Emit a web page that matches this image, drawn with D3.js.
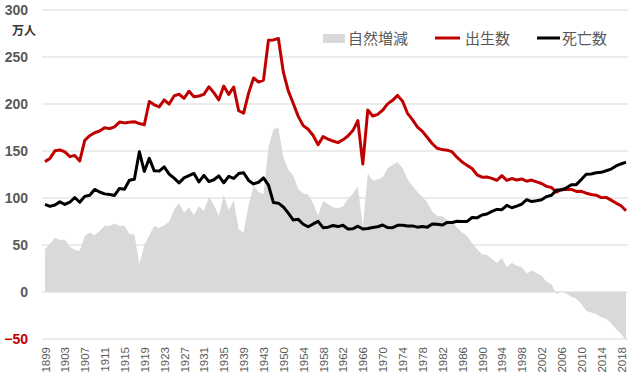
<!DOCTYPE html>
<html><head><meta charset="utf-8">
<script src="https://cdn.jsdelivr.net/npm/d3@7"></script>
<style>html,body{margin:0;padding:0;background:#fff;}svg{display:block;}</style>
</head><body>
<svg id="c" width="640" height="378"></svg>
<script>
const years = [1899,1900,1901,1902,1903,1904,1905,1906,1907,1908,1909,1910,1911,1912,1913,1914,1915,1916,1917,1918,1919,1920,1921,1922,1923,1924,1925,1926,1927,1928,1929,1930,1931,1932,1933,1934,1935,1936,1937,1938,1939,1940,1941,1942,1943,1947,1948,1949,1950,1951,1952,1953,1954,1955,1956,1957,1958,1959,1960,1961,1962,1963,1964,1965,1966,1967,1968,1969,1970,1971,1972,1973,1974,1975,1976,1977,1978,1979,1980,1981,1982,1983,1984,1985,1986,1987,1988,1989,1990,1991,1992,1993,1994,1995,1996,1997,1998,1999,2000,2001,2002,2003,2004,2005,2006,2007,2008,2009,2010,2011,2012,2013,2014,2015,2016,2017,2018,2019];
const births = [138.7,142.1,150.2,151.1,149.0,144.0,145.3,139.4,161.4,166.3,169.4,171.3,174.8,173.8,175.7,180.8,179.9,180.5,181.2,179.2,177.9,202.6,199.1,196.9,204.3,199.9,208.6,210.4,206.1,213.6,207.7,208.5,210.3,218.3,212.1,204.4,219.1,210.2,218.1,192.8,190.2,211.6,227.7,223.4,225.4,267.9,268.2,269.7,233.8,213.8,200.5,186.8,177.0,173.1,166.5,156.7,165.3,162.6,160.6,158.9,161.9,166.0,171.7,182.4,136.1,193.6,187.2,189.0,193.4,200.1,203.9,209.2,203.0,190.1,183.3,175.5,170.9,164.3,157.7,152.9,151.5,150.9,149.0,143.2,138.3,134.7,131.4,124.7,122.2,122.3,120.9,118.8,123.8,118.7,120.7,119.2,120.3,117.8,119.1,117.1,115.4,112.4,111.1,106.3,109.3,109.0,109.1,107.0,107.1,105.1,103.7,103.0,100.4,100.6,97.7,94.6,91.8,86.5];
const deaths = [93.2,91.1,92.6,95.9,93.1,95.5,100.5,95.5,101.7,102.9,109.1,106.4,104.4,103.7,102.7,110.2,109.4,118.8,120.0,149.3,128.2,142.2,128.9,128.7,133.2,125.5,121.1,116.1,121.4,123.7,126.1,117.1,124.1,117.5,119.4,123.5,116.2,123.0,120.8,126.0,126.9,118.7,115.0,116.7,121.4,113.8,95.1,94.5,90.5,83.9,76.5,77.3,72.1,69.4,72.4,75.2,68.4,69.0,70.7,69.6,71.0,67.1,67.3,70.0,67.0,67.5,68.7,69.4,71.3,68.5,68.4,70.9,71.1,70.2,70.3,69.0,69.6,69.0,72.3,72.0,71.2,74.0,74.0,75.2,75.1,75.1,79.3,78.9,82.0,83.0,85.7,87.9,87.6,92.2,89.6,91.3,93.6,98.2,96.2,97.0,98.2,101.5,102.9,108.4,108.4,110.8,114.2,114.2,119.7,125.3,125.6,126.8,127.3,129.0,130.8,134.1,136.2,138.1];
const naturalChange = [45.5,51.0,57.6,55.2,55.9,48.5,44.8,43.9,59.7,63.4,60.3,64.9,70.4,70.1,73.0,70.6,70.5,61.7,61.2,29.9,49.7,60.4,70.2,68.2,71.1,74.4,87.5,94.3,84.7,89.9,81.6,91.4,86.2,100.8,92.7,80.9,102.9,87.2,97.3,66.8,63.3,92.9,112.7,106.7,104.0,154.1,173.1,175.2,143.3,129.9,124.0,109.5,104.9,103.7,94.1,81.5,96.9,93.6,89.9,89.3,90.9,98.9,104.4,112.4,69.1,126.1,118.5,119.6,122.1,131.6,135.5,138.3,131.9,119.9,113.0,106.5,101.3,95.3,85.4,80.9,80.3,76.9,75.0,68.0,63.2,59.6,52.1,45.8,40.2,39.3,35.2,30.9,36.2,26.5,31.1,27.9,26.7,19.6,22.9,20.1,17.2,10.9,8.2,-2.1,0.9,-1.8,-5.1,-7.2,-12.6,-20.2,-21.9,-23.8,-26.9,-28.4,-33.1,-39.5,-44.4,-51.6];
const xTickLabels = [1899,1903,1907,1911,1915,1919,1923,1927,1931,1935,1939,1943,1950,1954,1958,1962,1966,1970,1974,1978,1982,1986,1990,1994,1998,2002,2006,2010,2014,2018];
const yTicks = [300,250,200,150,100,50,0,-50];
const seriesNames = ["自然増減","出生数","死亡数"];
const unitLabel = "万人";

const svg = d3.select("#c");
const x = d3.scalePoint().domain(years).range([45, 626]);
const y = d3.scaleLinear().domain([-50, 300]).range([339, 10]);
const RED = "#c00000", GRAY = "#d9d9d9", TXT = "#595959";
const cjk = "'Noto Sans CJK JP','Noto Sans',sans-serif";

// gridlines
svg.append("g").selectAll("line").data(yTicks).join("line")
  .attr("x1", 42).attr("x2", 628)
  .attr("y1", d => y(d)).attr("y2", d => y(d))
  .attr("stroke", "#d9d9d9").attr("stroke-width", 1);

// area
const area = d3.area().x((d,i) => x(years[i])).y0(y(0)).y1(d => y(d));
svg.append("path").datum(naturalChange).attr("d", area).attr("fill", GRAY);

// lines
const line = d3.line().x((d,i) => x(years[i])).y(d => y(d));
svg.append("path").datum(births).attr("d", line).attr("fill","none")
  .attr("stroke", RED).attr("stroke-width", 3).attr("stroke-linejoin","round");
svg.append("path").datum(deaths).attr("d", line).attr("fill","none")
  .attr("stroke", "#000").attr("stroke-width", 3).attr("stroke-linejoin","round");

// y axis
const yAxis = d3.axisLeft(y).tickValues(yTicks).tickSize(0).tickPadding(0);
const ya = svg.append("g").attr("transform","translate(28,0)").call(yAxis);
ya.select(".domain").remove();
ya.selectAll("text").attr("font-family","'Liberation Sans',Arial,sans-serif")
  .attr("font-size",14).attr("font-weight","bold")
  .attr("fill", d => d < 0 ? RED : TXT);

svg.append("text").attr("x", 24).attr("y", 31).attr("dy","0.35em")
  .attr("text-anchor","middle").attr("font-family", cjk).attr("font-size", 12)
  .attr("font-weight","bold").attr("fill","#333").text(unitLabel);

// x axis labels
const xAxis = d3.axisBottom(x).tickValues(xTickLabels).tickSize(0).tickPadding(0);
const xa = svg.append("g").attr("transform","translate(0,347)").call(xAxis);
xa.select(".domain").remove();
xa.selectAll("text")
  .attr("font-family","'Liberation Sans',Arial,sans-serif").attr("font-size",11.5)
  .attr("fill", TXT)
  .attr("transform","rotate(-90)")
  .attr("text-anchor","end").attr("x",0).attr("y",0).attr("dx",0).attr("dy","0.35em");

// legend
const lg = svg.append("g");
lg.append("rect").attr("x",323).attr("y",34).attr("width",22).attr("height",9).attr("fill",GRAY);
lg.append("text").attr("x",348).attr("y",39).attr("dy","0.35em").attr("font-family",cjk)
  .attr("font-size",15).attr("fill",TXT).text(seriesNames[0]);
lg.append("line").attr("x1",435).attr("x2",460).attr("y1",38).attr("y2",38).attr("stroke",RED).attr("stroke-width",3);
lg.append("text").attr("x",465).attr("y",39).attr("dy","0.35em").attr("font-family",cjk)
  .attr("font-size",15).attr("fill",TXT).text(seriesNames[1]);
lg.append("line").attr("x1",537).attr("x2",560).attr("y1",38).attr("y2",38).attr("stroke","#000").attr("stroke-width",3);
lg.append("text").attr("x",562).attr("y",39).attr("dy","0.35em").attr("font-family",cjk)
  .attr("font-size",15).attr("fill",TXT).text(seriesNames[2]);
</script>
</body></html>
